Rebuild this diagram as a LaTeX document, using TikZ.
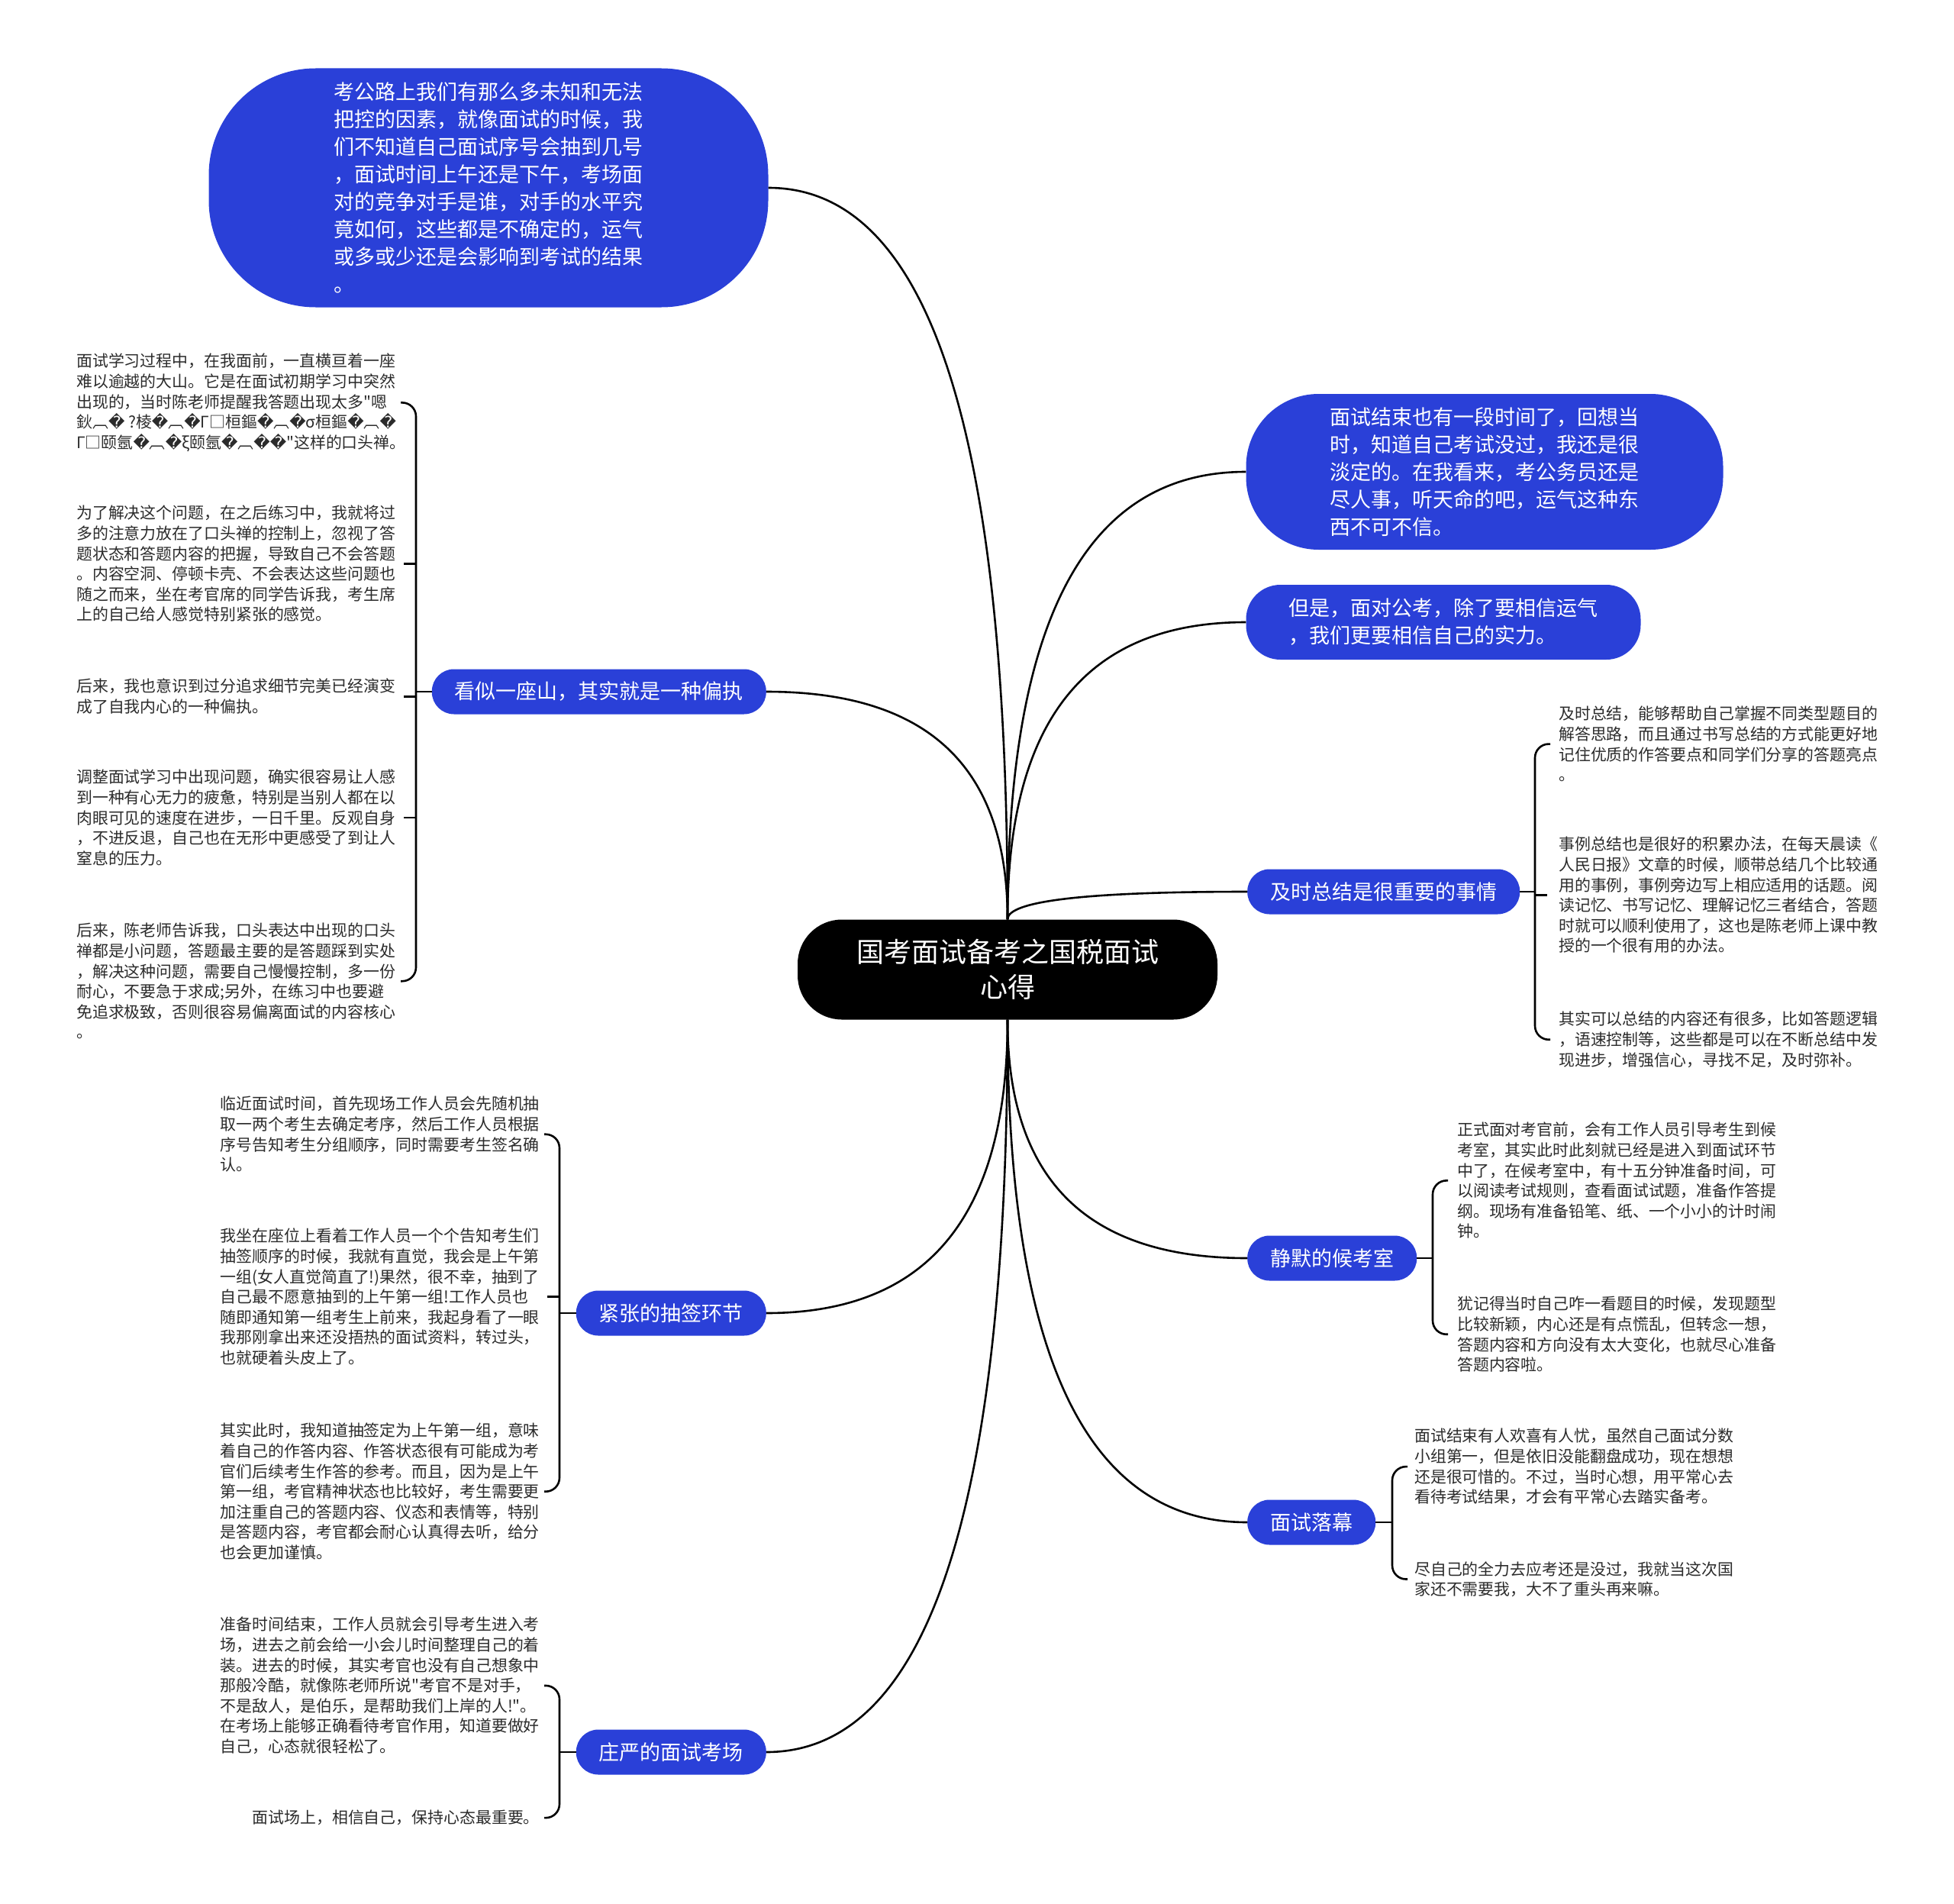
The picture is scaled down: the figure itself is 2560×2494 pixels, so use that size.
\documentclass[tikz,border=0pt]{standalone}
\usepackage{fontspec}
\setmainfont{Noto Sans CJK SC}[Ligatures=TeXOff]
\newfontfamily\dejavu{DejaVu Sans}
\newcommand\rpl{{\dejavu\char"FFFD}}
\usetikzlibrary{calc}
\definecolor{mmblue}{RGB}{42,64,216}
\definecolor{mmink}{HTML}{2B2B2B}
\tikzset{
  link/.style={line width=2.6pt, black},
  topic/.style={fill=black, text=white, rounded corners=58pt, minimum width=550pt,
    minimum height=131pt, align=center, font=\fontsize{36}{46}\selectfont},
  blob/.style={fill=mmblue, text=white, align=left, font=\fontsize{27}{36}\selectfont},
  branch/.style={fill=mmblue, text=white, rounded corners=29pt, minimum height=59pt,
    inner xsep=30pt, font=\fontsize{27}{36}\selectfont},
  leaf/.style={text=mmink, align=left, inner sep=0pt, font=\fontsize{20.9}{26.6}\selectfont},
}
\begin{document}
\begin{tikzpicture}[x=1pt, y=-1pt]
  \fill[white] (0,0) rectangle (2560,2494);
  \useasboundingbox (0,0) rectangle (2560,2494);

  \node[topic] (ct) at (1320,1270) {国考面试备考之国税面试\\心得};

  % big blue notes
  \node[blob, rounded corners=140pt, minimum width=733pt, minimum height=313pt] (tl) at (640,246)
    {考公路上我们有那么多未知和无法\\把控的因素，就像面试的时候，我\\们不知道自己面试序号会抽到几号\\，面试时间上午还是下午，考场面\\对的竞争对手是谁，对手的水平究\\竟如何，这些都是不确定的，运气\\或多或少还是会影响到考试的结果\\。};
  \node[blob, rounded corners=95pt, minimum width=625pt, minimum height=204pt] (rb1) at (1945,618)
    {面试结束也有一段时间了，回想当\\时，知道自己考试没过，我还是很\\淡定的。在我看来，考公务员还是\\尽人事，听天命的吧，运气这种东\\西不可不信。};
  \node[blob, rounded corners=45pt, minimum width=517pt, minimum height=98pt] (rb2) at (1891,815)
    {但是，面对公考，除了要相信运气\\，我们更要相信自己的实力。};

  \node[branch, anchor=east] (kan) at (1004,906) {看似一座山，其实就是一种偏执};
  \node[branch, anchor=west] (jish) at (1634,1168) {及时总结是很重要的事情};
  \node[branch, anchor=west] (jing) at (1634,1648) {静默的候考室};
  \node[branch, anchor=west] (luo) at (1634,1994) {面试落幕};
  \node[branch, anchor=east] (jin) at (1004,1720) {紧张的抽签环节};
  \node[branch, anchor=east] (zhuang) at (1004,2295) {庄严的面试考场};

  \foreach \a/\b in {north/tl.east, north/kan.east, north/rb1.west, north/rb2.west, north/jish.west,
                     south/jing.west, south/luo.west, south/jin.east, south/zhuang.east}
    \draw[link] (ct.\a) .. controls ($(ct.\a)!.67!(ct.\a |- \b)$) and ($(\b)!.67!(ct.\a |- \b)$) .. (\b);

  % left leaves
  \node[leaf, anchor=north west] (l1) at (100,463)
    {面试学习过程中，在我面前，一直横亘着一座\\难以逾越的大山。它是在面试初期学习中突然\\出现的，当时陈老师提醒我答题出现太多"嗯\\鈥︹\rpl{} ?棱\rpl{}︹\rpl{}Γ□桓鏂\rpl{}︹\rpl{}σ桓鏂\rpl{}︹\rpl{}\\Γ□颐氬\rpl{}︹\rpl{}ξ颐氬\rpl{}︹\rpl{}\rpl{}"这样的口头禅。};
  \node[leaf, anchor=north west] (l2) at (100,662)
    {为了解决这个问题，在之后练习中，我就将过\\多的注意力放在了口头禅的控制上，忽视了答\\题状态和答题内容的把握，导致自己不会答题\\。内容空洞、停顿卡壳、不会表达这些问题也\\随之而来，坐在考官席的同学告诉我，考生席\\上的自己给人感觉特别紧张的感觉。};
  \node[leaf, anchor=north west] (l3) at (100,889)
    {后来，我也意识到过分追求细节完美已经演变\\成了自我内心的一种偏执。};
  \node[leaf, anchor=north west] (l4) at (100,1008)
    {调整面试学习中出现问题，确实很容易让人感\\到一种有心无力的疲惫，特别是当别人都在以\\肉眼可见的速度在进步，一日千里。反观自身\\，不进反退，自己也在无形中更感受了到让人\\窒息的压力。};
  \node[leaf, anchor=north west] (l5) at (100,1209)
    {后来，陈老师告诉我，口头表达中出现的口头\\禅都是小问题，答题最主要的是答题踩到实处\\，解决这种问题，需要自己慢慢控制，多一份\\耐心，不要急于求成;另外，在练习中也要避\\免追求极致，否则很容易偏离面试的内容核心\\。};

  \node[leaf, anchor=north east] (b1) at (707,1436)
    {临近面试时间，首先现场工作人员会先随机抽\\取一两个考生去确定考序，然后工作人员根据\\序号告知考生分组顺序，同时需要考生签名确\\认。};
  \node[leaf, anchor=north east] (b2) at (707,1609)
    {我坐在座位上看着工作人员一个个告知考生们\\抽签顺序的时候，我就有直觉，我会是上午第\\一组(女人直觉简直了!)果然，很不幸，抽到了\\自己最不愿意抽到的上午第一组!工作人员也\\随即通知第一组考生上前来，我起身看了一眼\\我那刚拿出来还没捂热的面试资料，转过头，\\也就硬着头皮上了。};
  \node[leaf, anchor=north east] (b3) at (707,1864)
    {其实此时，我知道抽签定为上午第一组，意味\\着自己的作答内容、作答状态很有可能成为考\\官们后续考生作答的参考。而且，因为是上午\\第一组，考官精神状态也比较好，考生需要更\\加注重自己的答题内容、仪态和表情等，特别\\是答题内容，考官都会耐心认真得去听，给分\\也会更加谨慎。};
  \node[leaf, anchor=north east] (b4) at (707,2118)
    {准备时间结束，工作人员就会引导考生进入考\\场，进去之前会给一小会儿时间整理自己的着\\装。进去的时候，其实考官也没有自己想象中\\那般冷酷，就像陈老师所说"考官不是对手，\\不是敌人，是伯乐，是帮助我们上岸的人!"。\\在考场上能够正确看待考官作用，知道要做好\\自己，心态就很轻松了。};
  \node[leaf, anchor=north east] (b5) at (707,2371)
    {面试场上，相信自己，保持心态最重要。};

  % right leaves
  \node[leaf, anchor=north west] (r1) at (2042,925)
    {及时总结，能够帮助自己掌握不同类型题目的\\解答思路，而且通过书写总结的方式能更好地\\记住优质的作答要点和同学们分享的答题亮点\\。};
  \node[leaf, anchor=north west] (r2) at (2042,1096)
    {事例总结也是很好的积累办法，在每天晨读《\\人民日报》文章的时候，顺带总结几个比较通\\用的事例，事例旁边写上相应适用的话题。阅\\读记忆、书写记忆、理解记忆三者结合，答题\\时就可以顺利使用了，这也是陈老师上课中教\\授的一个很有用的办法。};
  \node[leaf, anchor=north west] (r3) at (2042,1325)
    {其实可以总结的内容还有很多，比如答题逻辑\\，语速控制等，这些都是可以在不断总结中发\\现进步，增强信心，寻找不足，及时弥补。};
  \node[leaf, anchor=north west] (s1) at (1909,1470)
    {正式面对考官前，会有工作人员引导考生到候\\考室，其实此时此刻就已经是进入到面试环节\\中了，在候考室中，有十五分钟准备时间，可\\以阅读考试规则，查看面试试题，准备作答提\\纲。现场有准备铅笔、纸、一个小小的计时闹\\钟。};
  \node[leaf, anchor=north west] (s2) at (1909,1698)
    {犹记得当时自己咋一看题目的时候，发现题型\\比较新颖，内心还是有点慌乱，但转念一想，\\答题内容和方向没有太大变化，也就尽心准备\\答题内容啦。};
  \node[leaf, anchor=north west] (m1) at (1853,1871)
    {面试结束有人欢喜有人忧，虽然自己面试分数\\小组第一，但是依旧没能翻盘成功，现在想想\\还是很可惜的。不过，当时心想，用平常心去\\看待考试结果，才会有平常心去踏实备考。};
  \node[leaf, anchor=north west] (m2) at (1853,2045)
    {尽自己的全力去应考还是没过，我就当这次国\\家还不需要我，大不了重头再来嘛。};

  % brackets
  \coordinate (kbr) at (545,906);
  \coordinate (jbr) at (2011,1168);
  \coordinate (sbr) at (1877,1648);
  \coordinate (mbr) at (1824,1994);
  \coordinate (zbr) at (733,1720);
  \coordinate (pbr) at (733,2295);

  \draw[link] (kan.west) -- (kbr);
  \draw[link] (jin.west) -- (zbr);
  \draw[link] (zhuang.west) -- (pbr);
  \draw[link] (jish.east) -- (jbr);
  \draw[link] (jing.east) -- (sbr);
  \draw[link] (luo.east) -- (mbr);

  \draw[link, rounded corners=18pt] ([xshift=-20pt]kbr |- l1.east) -| (kbr) |- ([xshift=-20pt]kbr |- l5.east);
  \draw[link, rounded corners=18pt] ([xshift=-20pt]zbr |- b1.east) -| (zbr) |- ([xshift=-20pt]zbr |- b3.east);
  \draw[link, rounded corners=18pt] ([xshift=-20pt]pbr |- b4.east) -| (pbr) |- ([xshift=-20pt]pbr |- b5.east);
  \draw[link, rounded corners=18pt] ([xshift=20pt]jbr |- r1.west) -| (jbr) |- ([xshift=20pt]jbr |- r3.west);
  \draw[link, rounded corners=18pt] ([xshift=20pt]sbr |- s1.west) -| (sbr) |- ([xshift=20pt]sbr |- s2.west);
  \draw[link, rounded corners=18pt] ([xshift=20pt]mbr |- m1.west) -| (mbr) |- ([xshift=20pt]mbr |- m2.west);

  \foreach \c/\n in {kbr/l2, kbr/l3, kbr/l4, zbr/b2}
    \draw[link] (\c |- \n.east) -- ([xshift=-16pt]\c |- \n.east);
  \draw[link] (jbr |- r2.west) -- ([xshift=16pt]jbr |- r2.west);
\end{tikzpicture}
\end{document}
